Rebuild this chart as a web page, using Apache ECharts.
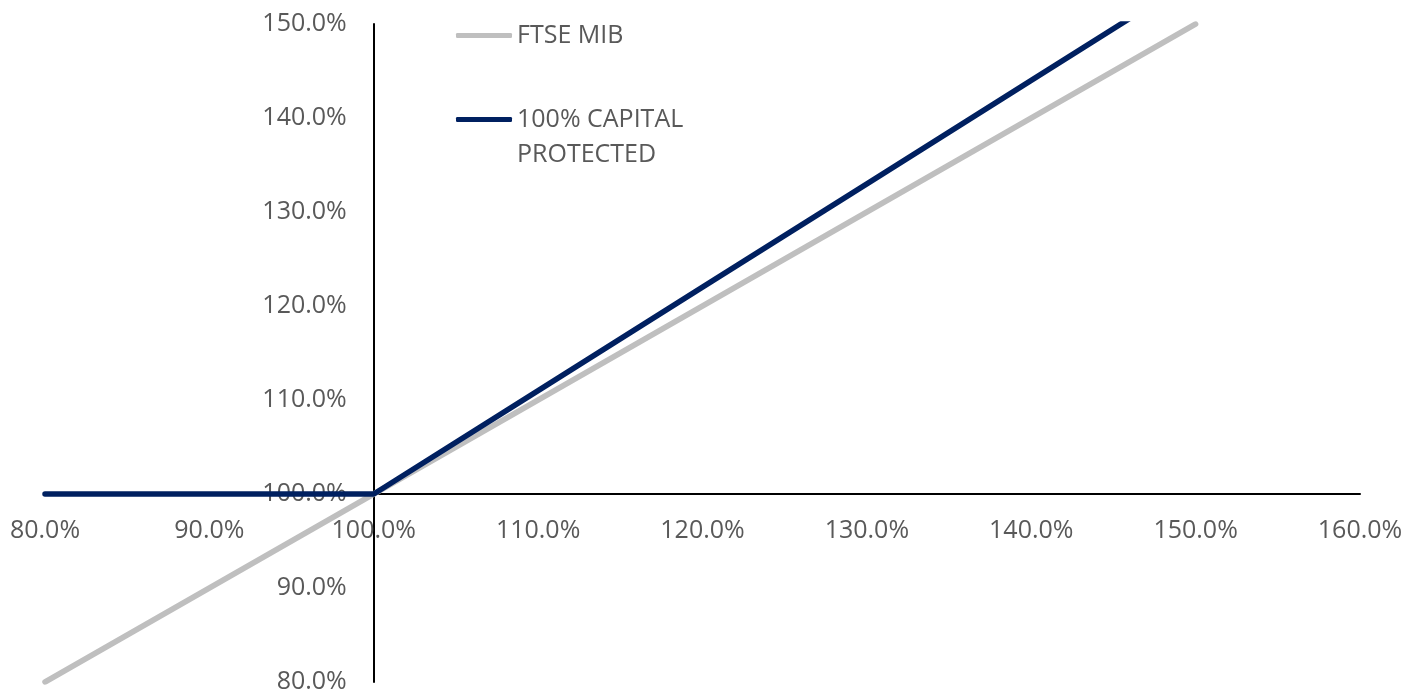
<!DOCTYPE html>
<html><head><meta charset="utf-8">
<script src="https://cdn.jsdelivr.net/npm/echarts@6/dist/echarts.min.js"></script>
<style>html,body{margin:0;padding:0;background:#fff}#c{width:1417px;height:691px}</style>
</head><body><div id="c"></div>
<script>
const xValues = [80, 90, 100, 110, 120, 130, 140, 150];
const ftseMib = [80, 90, 100, 110, 120, 130, 140, 150];
const capitalProtected = [100, 100, 100, 111, 122, 133, 144, 155];
const seriesNames = ['FTSE MIB', '100% CAPITAL\nPROTECTED'];
const seriesColors = ['#BFBFBF', '#002060'];
const FONT = 'Open Sans';
const FS = 25;

const GRID = { left: 45, right: 57, top: 24, bottom: 9 };
const W = 1417, H = 691;
const xMin = 80, xMax = 160, yMin = 80, yMax = 150, cross = 100;
const plotW = W - GRID.left - GRID.right, plotH = H - GRID.top - GRID.bottom;
const xAxisOffset = -((cross - yMin) / (yMax - yMin)) * plotH;
const yAxisOffset = -((cross - xMin) / (xMax - xMin)) * plotW;

const toPairs = (ys) => xValues.map((x, i) => [x, ys[i]]);
const fmt = (v) => v.toFixed(1) + '%';

const chart = echarts.init(document.getElementById('c'));
chart.setOption({
  animation: false,
  grid: Object.assign({ containLabel: false, outerBoundsMode: 'none' }, GRID),
  legend: [
    { data: [seriesNames[0]], orient: 'vertical', left: 451, top: 18, itemWidth: 56, itemHeight: 5, icon: 'roundRect',
      textStyle: { fontFamily: FONT, fontSize: FS, color: '#595959' }, itemGap: 0 },
    { data: [seriesNames[1]], orient: 'vertical', left: 451, top: 62, itemWidth: 56, itemHeight: 5, icon: 'roundRect',
      formatter: (name) => ' \n' + name,
      textStyle: { fontFamily: FONT, fontSize: FS, color: '#595959', lineHeight: 35 }, itemGap: 0 }
  ],
  xAxis: {
    type: 'value', min: xMin, max: xMax, interval: 10, position: 'bottom', offset: xAxisOffset,
    axisLine: { onZero: false, lineStyle: { color: '#000', width: 2 } },
    axisTick: { show: false }, splitLine: { show: false },
    axisLabel: { formatter: fmt, fontFamily: FONT, fontSize: FS, color: '#595959', margin: 24 }
  },
  yAxis: {
    type: 'value', min: yMin, max: yMax, interval: 10, position: 'left', offset: yAxisOffset,
    axisLine: { show: true, onZero: false, lineStyle: { color: '#000', width: 2 } },
    axisTick: { show: false }, splitLine: { show: false },
    axisLabel: { formatter: fmt, fontFamily: FONT, fontSize: FS, color: '#595959', margin: 27, padding: [4, 0, 0, 0] }
  },
  series: [
    { name: seriesNames[0], type: 'line', data: toPairs(ftseMib), showSymbol: false, symbol: 'none',
      lineStyle: { color: seriesColors[0], width: 5.5, cap: 'round' }, itemStyle: { color: seriesColors[0] }, clip: true },
    { name: seriesNames[1], type: 'line', data: toPairs(capitalProtected), showSymbol: false, symbol: 'none',
      lineStyle: { color: seriesColors[1], width: 5.5, cap: 'round' }, itemStyle: { color: seriesColors[1] }, clip: true }
  ]
});
</script></body></html>
